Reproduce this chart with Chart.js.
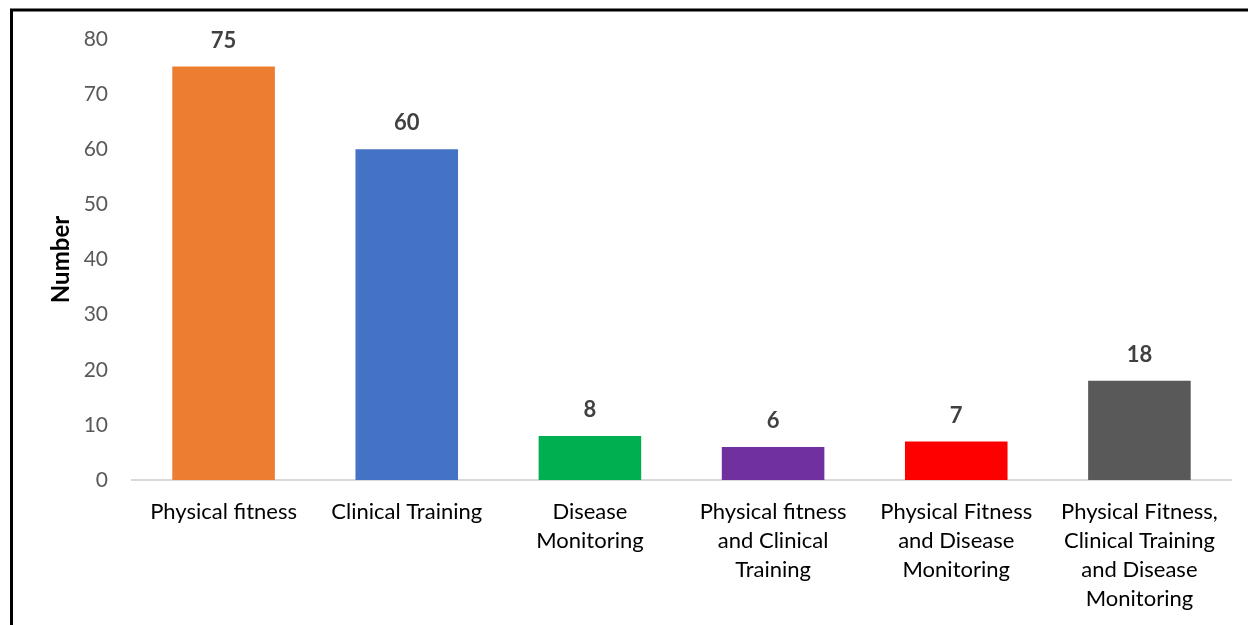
<!DOCTYPE html>
<html>
<head>
<meta charset="utf-8">
<script src="https://cdn.jsdelivr.net/npm/chart.js@4"></script>
<style>
html,body{margin:0;padding:0;background:#fff;}
#wrap{width:1248px;height:625px;position:relative;}
</style>
</head>
<body>
<div id="wrap"><canvas id="c" width="1248" height="625"></canvas></div>
<script>
const categories = [
  "Physical fitness",
  "Clinical Training",
  ["Disease", "Monitoring"],
  ["Physical fitness", "and Clinical", "Training"],
  ["Physical Fitness", "and Disease", "Monitoring"],
  ["Physical Fitness,", "Clinical Training", "and Disease", "Monitoring"]
];
const values = [75, 60, 8, 6, 7, 18];
const barColors = ["#ED7D31", "#4472C4", "#00B050", "#7030A0", "#FF0000", "#595959"];
const yTicks = [0, 10, 20, 30, 40, 50, 60, 70, 80];
const yTitle = "Number";

const FONT = "Lato, 'Open Sans', sans-serif";

const borderPlugin = {
  id: 'frame',
  afterDraw(chart) {
    const ctx = chart.ctx;
    ctx.save();
    ctx.strokeStyle = '#000';
    ctx.lineWidth = 3;
    ctx.beginPath();
    ctx.moveTo(11.5, 625);
    ctx.lineTo(11.5, 10);
    ctx.lineTo(1248, 10);
    ctx.stroke();
    ctx.restore();
  }
};

const labelPlugin = {
  id: 'valueLabels',
  afterDatasetsDraw(chart) {
    const ctx = chart.ctx;
    const meta = chart.getDatasetMeta(0);
    ctx.save();
    ctx.font = "bold 22px " + FONT;
    ctx.fillStyle = '#404040';
    ctx.textAlign = 'center';
    ctx.textBaseline = 'middle';
    meta.data.forEach((bar, i) => {
      ctx.fillText(String(values[i]), bar.x, bar.y - 26);
    });
    ctx.restore();
  }
};

new Chart(document.getElementById('c'), {
  type: 'bar',
  data: {
    labels: categories,
    datasets: [{
      data: values,
      backgroundColor: barColors,
      borderWidth: 0,
      categoryPercentage: 1,
      barPercentage: 0.56
    }]
  },
  options: {
    responsive: false,
    animation: false,
    devicePixelRatio: 1,
    layout: { padding: { left: 0, right: 17, top: 39, bottom: 0 } },
    plugins: { legend: { display: false }, tooltip: { enabled: false } },
    scales: {
      x: {
        grid: { display: false, drawTicks: false },
        border: { display: true, color: '#D9D9D9', width: 2 },
        ticks: {
          color: '#000',
          font: { family: FONT, size: 22, lineHeight: 1.32 },
          padding: 17,
          maxRotation: 0,
          autoSkip: false
        },
        afterFit(scale) { scale.height = 145; }
      },
      y: {
        min: 0,
        max: 80,
        afterBuildTicks(scale) { scale.ticks = yTicks.map(v => ({ value: v })); },
        grid: { display: false, drawTicks: false },
        border: { display: false },
        ticks: {
          color: '#595959',
          font: { family: FONT, size: 21 },
          padding: 24
        },
        title: {
          display: true,
          text: yTitle,
          color: '#000',
          font: { family: FONT, size: 24, weight: 'bold' },
          padding: { top: 47, bottom: 0 }
        },
        afterFit(scale) { scale.width = 132; }
      }
    }
  },
  plugins: [borderPlugin, labelPlugin]
});
</script>
</body>
</html>
